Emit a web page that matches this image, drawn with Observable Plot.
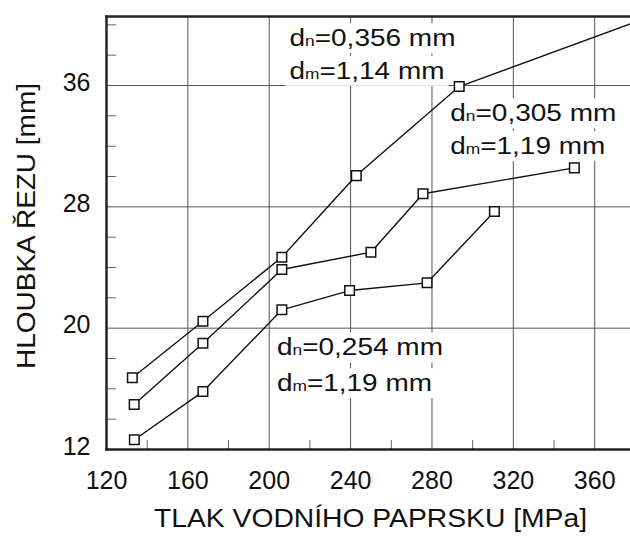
<!DOCTYPE html>
<html>
<head>
<meta charset="utf-8">
<script src="https://cdn.jsdelivr.net/npm/d3@7"></script>
<script src="https://cdn.jsdelivr.net/npm/@observablehq/plot@0.6"></script>
<style>
  html, body { margin: 0; padding: 0; background: #fff; }
  svg { display: block; }
</style>
</head>
<body>
<div id="chart"></div>
<script>
// ---- data ----
const xTicks = [120, 160, 200, 240, 280, 320, 360];
const yTicks = [12, 20, 28, 36];
const xGrid = [160, 200, 240, 280, 320, 360];
const yGrid = [20, 28, 36];
const xMinor = [140, 180, 220, 260, 300, 340];
const yMinor = [14, 16, 18, 22, 24, 26, 30, 32, 34, 38, 40];

// dn = 0,356 mm, dm = 1,14 mm (last point: line leaves the chart, no marker)
const pressure356 = [132.7, 167.4, 206.2, 242.8, 293.4, 377.6];
const depth356    = [16.73, 20.46, 24.68, 30.06, 35.93, 40.06];
const marker356   = [true, true, true, true, true, false];

// dn = 0,305 mm, dm = 1,19 mm
const pressure305 = [133.6, 167.4, 206.2, 250.0, 275.6, 350.0];
const depth305    = [14.97, 19.01, 23.87, 25.01, 28.86, 30.57];

// dn = 0,254 mm, dm = 1,19 mm
const pressure254 = [133.7, 167.4, 206.2, 239.5, 277.6, 310.7];
const depth254    = [12.64, 15.82, 21.21, 22.48, 22.99, 27.69];

// annotation lines and their anchor (data coordinates)
const annText = ["dn=0,356 mm", "dm=1,14 mm", "dn=0,305 mm", "dm=1,19 mm", "dn=0,254 mm", "dm=1,19 mm"];
const annX    = [209.96, 209.96, 289.0, 289.0, 203.8, 203.8];
const annY    = [38.59, 36.44, 33.64, 31.49, 18.2, 15.84];

const xTitle = "TLAK VODNÍHO PAPRSKU [MPa]";
const yTitle = "HLOUBKA ŘEZU [mm]";

// ---- build tables ----
const rows = [];
pressure356.forEach((p, i) => rows.push({s: "356", x: p, y: depth356[i], m: marker356[i]}));
pressure305.forEach((p, i) => rows.push({s: "305", x: p, y: depth305[i], m: true}));
pressure254.forEach((p, i) => rows.push({s: "254", x: p, y: depth254[i], m: true}));
const ann = annText.map((t, i) => ({t, x: annX[i], y: annY[i]}));

const tickShape = {
  draw(context, l) { context.moveTo(0, 0); context.lineTo(0, -l); }
};

const font = "'Liberation Sans', Arial, Helvetica, sans-serif";

const plot = Plot.plot({
  width: 630,
  height: 540,
  marginLeft: 106,
  marginRight: 0,
  marginTop: 16,
  marginBottom: 91,
  style: {fontFamily: font, fontSize: "25px", color: "#111", background: "#fff"},
  x: {domain: [120, 377.6]},
  y: {domain: [12, 40.55]},
  marks: [
    Plot.gridX(xGrid, {stroke: "#555", strokeOpacity: 1, strokeWidth: 1}),
    Plot.gridY(yGrid, {stroke: "#555", strokeOpacity: 1, strokeWidth: 1}),
    Plot.vector(xMinor, {x: d => d, frameAnchor: "bottom", length: 9, rotate: 0, anchor: "start", shape: tickShape, stroke: "#666", strokeWidth: 1}),
    Plot.vector(yMinor, {y: d => d, frameAnchor: "left", length: 9, rotate: 90, anchor: "start", shape: tickShape, stroke: "#666", strokeWidth: 1}),
    Plot.frame({anchor: "left", stroke: "#222", strokeWidth: 2.5}),
    Plot.frame({anchor: "top", stroke: "#222", strokeWidth: 2.5}),
    Plot.frame({anchor: "bottom", stroke: "#222", strokeWidth: 2.5}),
    Plot.axisX({ticks: xTicks, tickSize: 0, tickPadding: 22, label: null, fontSize: 25, fill: "#111"}),
    Plot.axisY({ticks: yTicks, tickSize: 0, tickPadding: 16, label: null, fontSize: 25, fill: "#111", dy: -3}),
    Plot.line(rows, {x: "x", y: "y", z: "s", stroke: "#111", strokeWidth: 1.4}),
    Plot.dot(rows.filter(d => d.m), {x: "x", y: "y", symbol: "square", r: 5.4, fill: "white", stroke: "#111", strokeWidth: 1.5}),
    Plot.text(ann, {x: "x", y: "y", text: "t", textAnchor: "start", lineAnchor: "bottom", fontSize: 23, fill: "#111"}),
    Plot.text([xTitle], {frameAnchor: "bottom", dy: 69, dx: 2, textAnchor: "middle", lineAnchor: "middle", fontSize: 25, fill: "#111"}),
    Plot.text([yTitle], {frameAnchor: "left", dx: -80, dy: -7, rotate: -90, textAnchor: "middle", lineAnchor: "middle", fontSize: 25, fill: "#111"})
  ]
});

document.getElementById("chart").append(plot);

// ---- post-processing: subscripts, stretched text, white boxes behind annotations ----
const NS = "http://www.w3.org/2000/svg";
const svgRect = plot.getBoundingClientRect();
const annNodes = [];
plot.querySelectorAll("text").forEach(t => {
  const s = t.textContent;
  if (/^d[nm]=/.test(s)) {
    t.textContent = "";
    t.append(document.createTextNode(s[0]));
    const sub = document.createElementNS(NS, "tspan");
    sub.setAttribute("font-size", "0.62em");
    sub.textContent = s[1];
    t.append(sub);
    const rest = document.createElementNS(NS, "tspan");
    rest.textContent = s.slice(2);
    t.append(rest);
    t.setAttribute("textLength", s[1] === "n" ? 166 : 155);
    t.setAttribute("lengthAdjust", "spacingAndGlyphs");
    annNodes.push(t);
  } else if (s === xTitle) {
    t.setAttribute("textLength", 433);
    t.setAttribute("lengthAdjust", "spacingAndGlyphs");
  } else if (s === yTitle) {
    t.setAttribute("textLength", 286);
    t.setAttribute("lengthAdjust", "spacingAndGlyphs");
  }
});
const lineGroup = plot.querySelector('g[aria-label="line"]');
const boxG = document.createElementNS(NS, "g");
annNodes.forEach(t => {
  const b = t.getBoundingClientRect();
  const r = document.createElementNS(NS, "rect");
  r.setAttribute("x", b.left - svgRect.left - 4);
  r.setAttribute("y", b.top - svgRect.top - 2);
  r.setAttribute("width", b.width + 8);
  r.setAttribute("height", b.height + 4);
  r.setAttribute("fill", "white");
  boxG.append(r);
});
if (lineGroup) lineGroup.parentNode.insertBefore(boxG, lineGroup);
</script>
</body>
</html>
